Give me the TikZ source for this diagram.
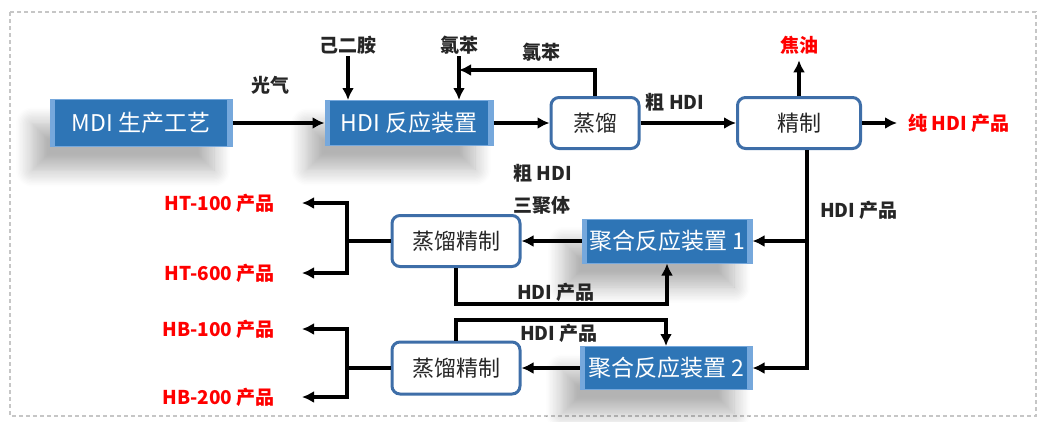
\documentclass[tikz,border=0pt]{standalone}
\usepackage{fontspec}
\setmainfont{Noto Sans CJK SC}
\usepackage{tikz}
\usetikzlibrary{arrows.meta, positioning, calc, shadows.blur}
\definecolor{boxblue}{RGB}{46,117,182}
\definecolor{edgeblue}{RGB}{118,168,220}
\definecolor{lineblue}{RGB}{62,110,168}
\tikzset{
  blue box/.style={
    rectangle,
    fill=boxblue,
    draw=edgeblue,
    line width=1pt,
    text=white,
    font=\fontsize{23}{23}\selectfont,
    inner sep=0pt,
    blur shadow={shadow xshift=-18pt, shadow yshift=-24pt,
      shadow blur radius=16pt, shadow blur steps=12, shadow opacity=30},
    path picture={
      \fill[edgeblue] (path picture bounding box.south west)
        rectangle ([xshift=5pt]path picture bounding box.north west);
      \fill[edgeblue] (path picture bounding box.south east)
        rectangle ([xshift=-5pt]path picture bounding box.north east);
    }
  },
  round box/.style={
    rectangle,
    rounded corners=8pt,
    draw=lineblue,
    line width=3pt,
    fill=white,
    text=black!85,
    font=\fontsize{22}{22}\selectfont,
    inner sep=0pt
  },
  flow/.style={
    -{Latex[length=12pt,width=12pt]},
    line width=3.2pt
  },
  pipe/.style={
    line width=3.2pt
  },
  label text/.style={
    font=\bfseries\fontsize{19}{19}\selectfont,
    text=black!85,
    inner sep=2pt
  },
  product/.style={
    label text,
    text=red
  }
}
\begin{document}
\begin{tikzpicture}[x=1pt, y=-1pt]
    \useasboundingbox (0,0) rectangle (1041,421);
    % 外框
    \draw[gray!45, line width=1.2pt, dash pattern=on 4pt off 3pt] (10,12) rectangle (1036,416);

    % 主流程
    \node[blue box, minimum width=182pt, minimum height=47pt] (mdi) at (141,123) {MDI 生产工艺};
    \node[blue box, minimum width=168pt, minimum height=45pt] (hdirx) at (409,123) {HDI 反应装置};
    \node[round box, minimum width=88pt, minimum height=51pt] (zl) at (595,123) {蒸馏};
    \node[round box, minimum width=123pt, minimum height=51pt] (jz) at (799,123) {精制};

    % 聚合与精制
    \node[blue box, minimum width=170pt, minimum height=44pt] (jh1) at (667,241) {聚合反应装置 1};
    \node[blue box, minimum width=172pt, minimum height=43pt] (jh2) at (666,368) {聚合反应装置 2};
    \node[round box, minimum width=128pt, minimum height=51pt] (zj1) at (456,241) {蒸馏精制};
    \node[round box, minimum width=128pt, minimum height=52pt] (zj2) at (456,368) {蒸馏精制};

    % 物料标注
    \node[label text] (gq) at (270,85) {光气};
    \node[label text] (ejl) at (348,45) {己二胺};
    \node[label text] (lb1) at (459,45) {氯苯};
    \node[label text] (lb2) at (541,52) {氯苯};
    \node[label text] (chdi1) at (675,102) {粗 HDI};
    \node[product, inner ysep=6pt] (jy) at (799,45) {焦油};
    \node[product, anchor=west, inner xsep=11pt] (chun) at (897,123) {纯 HDI 产品};
    \node[label text, anchor=west] (chdi2) at (511,173) {粗 HDI};
    \node[label text, anchor=west] (sjt) at (511,205) {三聚体};
    \node[label text, anchor=west] (hdip) at (818,210) {HDI 产品};
    \node[label text, anchor=west] (hdip1) at (515,292) {HDI 产品};
    \node[label text, anchor=west] (hdip2) at (518,333) {HDI 产品};

    % 产品
    \node[product, anchor=east, inner xsep=27pt] (ht100) at (302,203) {HT-100 产品};
    \node[product, anchor=east, inner xsep=27pt] (ht600) at (302,273) {HT-600 产品};
    \node[product, anchor=east, inner xsep=27pt] (hb100) at (302,329) {HB-100 产品};
    \node[product, anchor=east, inner xsep=27pt] (hb200) at (302,397) {HB-200 产品};

    \coordinate (lbturn) at (597,70);
    \coordinate (bus1) at (807,241);
    \coordinate (bus2) at (807,368);
    \coordinate (fork1) at (347,241);
    \coordinate (fork2) at (347,368);
    \coordinate (fb1) at (560,304);
    \coordinate (fb2) at (560,320);

    % 连线
    \draw[flow] (mdi) -- (hdirx);
    \draw[flow] (ejl) -- (ejl |- hdirx.north);
    \draw[flow] (lb1) -- (lb1 |- hdirx.north);
    \draw[flow] (zl.north) |- (lb1 |- lbturn);
    \draw[flow] (hdirx) -- (zl);
    \draw[flow] (zl) -- (jz);
    \draw[flow] (jz) -- (jy);
    \draw[flow] (jz) -- (chun);
    \draw[flow] (jz.south -| bus2) |- (jh2.east);
    \draw[flow] (bus1) -- (jh1.east);
    \draw[flow] (jh1) -- (zj1);
    \draw[flow] (jh2) -- (zj2);
    \draw[pipe] (zj1.west) -- (fork1);
    \draw[pipe] (zj2.west) -- (fork2);
    \draw[flow] (fork1) |- (ht100);
    \draw[flow] (fork1) |- (ht600);
    \draw[flow] (fork2) |- (hb100);
    \draw[flow] (fork2) |- (hb200);
    \draw[flow] (zj1.south) |- (fb1) -| (jh1.south);
    \draw[flow] (zj2.north) |- (fb2) -| (jh2.north);
\end{tikzpicture}
\end{document}
